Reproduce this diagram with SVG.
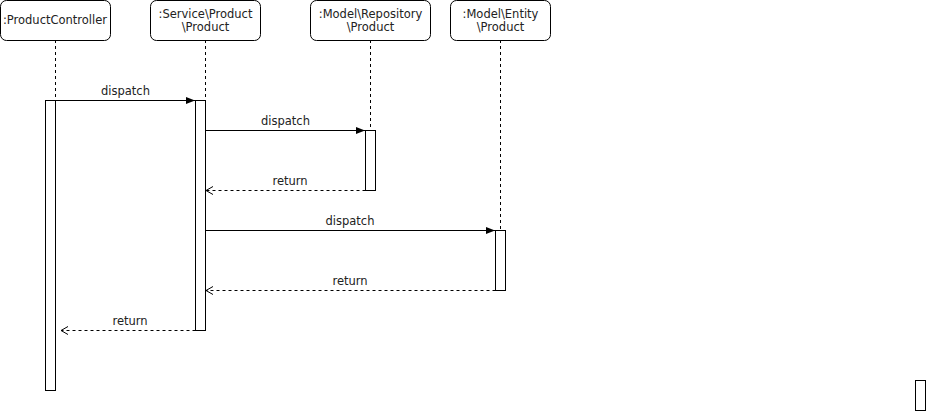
<svg xmlns="http://www.w3.org/2000/svg" width="926" height="411" viewBox="0 0 926 411">
<defs>
<style>
.box{fill:#fff;stroke:#000;stroke-width:1}
.act{fill:#fff;stroke:#000;stroke-width:1}
.life{stroke:#000;stroke-width:1;stroke-dasharray:3 3;fill:none}
.msg{stroke:#000;stroke-width:1;fill:none}
.ret{stroke:#000;stroke-width:1;fill:none;stroke-dasharray:3 3}
text{font-family:"DejaVu Sans",Verdana,sans-serif;font-size:11.5px;fill:#222;text-anchor:middle}
</style>
<marker id="fill" markerWidth="10" markerHeight="8" refX="9" refY="4" orient="auto" markerUnits="userSpaceOnUse">
<path d="M0,0.5 L9,4 L0,7.5 Z" fill="#000"/>
</marker>
<marker id="open" markerWidth="10" markerHeight="10" refX="8" refY="5" orient="auto" markerUnits="userSpaceOnUse">
<path d="M1,1 L8,5 L1,9" fill="none" stroke="#000"/>
</marker>
</defs>
<g id="lifelines">
<line class="life" x1="55.5" y1="40" x2="55.5" y2="100"/>
<line class="life" x1="205.5" y1="40" x2="205.5" y2="100"/>
<line class="life" x1="370.5" y1="40" x2="370.5" y2="130"/>
<line class="life" x1="500.5" y1="40" x2="500.5" y2="230"/>
</g>
<g id="n1"><rect class="box" x="0.5" y="0.5" width="110" height="40" rx="6"/><text x="55" y="24">:ProductController</text></g>
<g id="n2"><rect class="box" x="150.5" y="0.5" width="110" height="40" rx="6"/><text x="205.5" y="18">:Service\Product</text><text x="205.5" y="31">\Product</text></g>
<g id="n3"><rect class="box" x="310.5" y="0.5" width="120" height="40" rx="6"/><text x="370.5" y="18">:Model\Repository</text><text x="370.5" y="31">\Product</text></g>
<g id="n4"><rect class="box" x="450.5" y="0.5" width="100" height="40" rx="6"/><text x="500.5" y="18">:Model\Entity</text><text x="500.5" y="31">\Product</text></g>
<g id="a1"><rect class="act" x="45.5" y="100.5" width="10" height="290"/></g>
<g id="a2"><rect class="act" x="195.5" y="100.5" width="10" height="230"/></g>
<g id="a3"><rect class="act" x="365.5" y="130.5" width="10" height="60"/></g>
<g id="a4"><rect class="act" x="495.5" y="230.5" width="10" height="60"/></g>
<g id="extra"><rect class="act" x="915.5" y="380.5" width="10" height="30"/></g>
<g id="connectors">
<line class="msg" x1="55.5" y1="100.5" x2="195" y2="100.5" marker-end="url(#fill)"/>
<text x="125.5" y="95">dispatch</text>
<line class="msg" x1="205.5" y1="130.5" x2="365" y2="130.5" marker-end="url(#fill)"/>
<text x="285.5" y="125">dispatch</text>
<line class="ret" x1="365.5" y1="190.5" x2="206" y2="190.5" marker-end="url(#open)"/>
<text x="290" y="185">return</text>
<line class="msg" x1="205.5" y1="230.5" x2="495" y2="230.5" marker-end="url(#fill)"/>
<text x="350" y="225">dispatch</text>
<line class="ret" x1="495.5" y1="290.5" x2="206" y2="290.5" marker-end="url(#open)"/>
<text x="350" y="285">return</text>
<line class="ret" x1="195.5" y1="330.5" x2="61" y2="330.5" marker-end="url(#open)"/>
<text x="130" y="325">return</text>
</g>
</svg>
